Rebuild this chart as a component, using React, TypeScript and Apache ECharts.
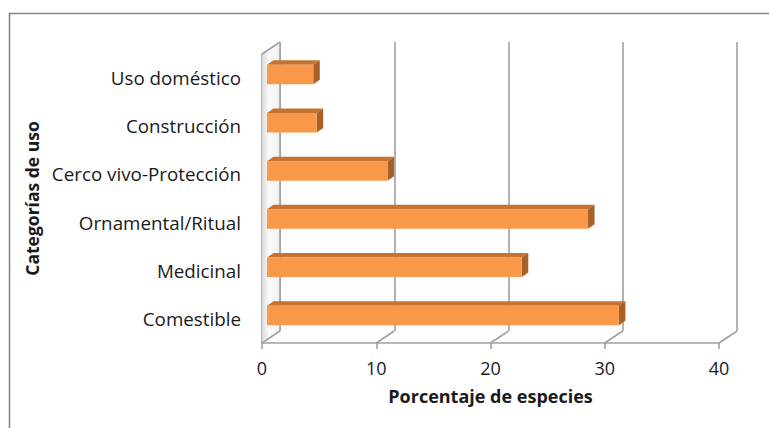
import React, { useEffect, useRef } from "react";
import * as echarts from "echarts";

const categories = [
  "Comestible",
  "Medicinal",
  "Ornamental/Ritual",
  "Cerco vivo-Protección",
  "Construcción",
  "Uso doméstico",
];
const percentages = [30.8, 22.3, 28.1, 10.55, 4.35, 4.05];
const xTicks = [0, 10, 20, 30, 40];
const xTitle = "Porcentaje de especies";
const yTitle = "Categorías de uso";

const FONT = "'Open Sans', 'DejaVu Sans', sans-serif";
const GRID_COLOR = "#a0a0a0";
const DX = 18;
const DY = -12;

export default function App() {
  const ref = useRef<HTMLDivElement>(null);
  useEffect(() => {
    if (!ref.current) return;
    const chart = echarts.init(ref.current, null, { renderer: "svg" });
    const wallFill = new echarts.graphic.LinearGradient(0, 0, 1, 0, [
      { offset: 0, color: "#dadada" },
      { offset: 0.4, color: "#fbfbfb" },
      { offset: 1, color: "#efefef" },
    ]);
    const option: any = {
      animation: false,
      backgroundColor: "#ffffff",
      graphic: [
        {
          type: "rect",
          shape: { x: 9.5, y: 13.5, width: 820, height: 520 },
          style: { fill: "none", stroke: "#878787", lineWidth: 1.6 },
          silent: true,
        },
      ],
      grid: [
        { left: 262, top: 54, width: 457, height: 289, containLabel: false },
        { left: 262 + DX, top: 54 + DY, width: 457, height: 289, containLabel: false },
      ],
      xAxis: [
        {
          type: "value",
          gridIndex: 0,
          min: 0,
          max: 40,
          interval: 10,
          name: xTitle,
          nameLocation: "middle",
          nameGap: 44,
          nameTextStyle: { fontFamily: FONT, fontSize: 18, fontWeight: "bold", color: "#1a1a1a" },
          axisLine: { show: true, lineStyle: { color: GRID_COLOR, width: 1.6 } },
          axisTick: { show: true, length: 6, lineStyle: { color: GRID_COLOR, width: 1.6 } },
          axisLabel: { fontFamily: FONT, fontSize: 18, color: "#1a1a1a", margin: 16 },
          splitLine: { show: false },
        },
        {
          type: "value",
          gridIndex: 1,
          min: 0,
          max: 40,
          interval: 10,
          axisLine: { show: false },
          axisTick: { show: false },
          axisLabel: { show: false },
          splitLine: { show: true, lineStyle: { color: GRID_COLOR, width: 1.6 } },
        },
      ],
      yAxis: [
        {
          type: "category",
          gridIndex: 0,
          data: categories,
          name: yTitle,
          nameLocation: "middle",
          nameGap: 220,
          nameRotate: 90,
          nameTextStyle: { fontFamily: FONT, fontSize: 17.5, fontWeight: "bold", color: "#1a1a1a" },
          axisLine: { show: true, lineStyle: { color: GRID_COLOR, width: 1.6 } },
          axisTick: { show: false },
          axisLabel: { fontFamily: FONT, fontSize: 18.8, color: "#1a1a1a", margin: 21 },
          splitLine: { show: false },
        },
        {
          type: "category",
          gridIndex: 1,
          data: categories,
          axisLine: { show: false },
          axisTick: { show: false },
          axisLabel: { show: false },
          splitLine: { show: false },
        },
      ],
      series: [
        {
          type: "custom",
          xAxisIndex: 0,
          yAxisIndex: 0,
          data: xTicks.map((v) => [v, 0]),
          encode: { x: 0, y: 1 },
          silent: true,
          renderItem: (params: any, api: any) => {
            const v = api.value(0);
            const x = api.coord([v, 0])[0];
            const cs = params.coordSys;
            const yb = cs.y + cs.height;
            const children: any[] = [];
            if (v === 0) {
              children.push({
                type: "polygon",
                shape: {
                  points: [
                    [x, cs.y],
                    [x + DX, cs.y + DY],
                    [x + DX, yb + DY],
                    [x, yb],
                  ],
                },
                style: { fill: wallFill, stroke: "none" },
              });
              children.push({
                type: "line",
                shape: { x1: x, y1: cs.y, x2: x + DX, y2: cs.y + DY },
                style: { stroke: GRID_COLOR, lineWidth: 1.6 },
              });
              children.push({
                type: "line",
                shape: { x1: x + DX, y1: cs.y + DY, x2: x + DX, y2: yb + DY },
                style: { stroke: GRID_COLOR, lineWidth: 1.6 },
              });
            }
            children.push({
              type: "line",
              shape: { x1: x, y1: yb, x2: x + DX, y2: yb + DY },
              style: { stroke: GRID_COLOR, lineWidth: 1.6 },
            });
            return { type: "group", children };
          },
        },
        {
          type: "custom",
          xAxisIndex: 0,
          yAxisIndex: 0,
          data: percentages.map((v, i) => [v, i]),
          encode: { x: 0, y: 1 },
          renderItem: (params: any, api: any) => {
            const v = api.value(0);
            const c = api.value(1);
            const p0 = api.coord([0, c]);
            const p1 = api.coord([v, c]);
            const x0 = p0[0] + 5;
            const x1 = p1[0] + 5;
            const yc = p0[1] - 3.5;
            const h = 19.5;
            const yt = yc - h / 2;
            const yb = yc + h / 2;
            const dx = 6.5;
            const dy = -4.5;
            return {
              type: "group",
              children: [
                {
                  type: "polygon",
                  shape: { points: [[x0, yt], [x1, yt], [x1 + dx, yt + dy], [x0 + dx, yt + dy]] },
                  style: { fill: "#c47431" },
                },
                {
                  type: "polygon",
                  shape: { points: [[x1, yt], [x1 + dx, yt + dy], [x1 + dx, yb + dy], [x1, yb]] },
                  style: { fill: "#a6602a" },
                },
                {
                  type: "rect",
                  shape: { x: x0, y: yt, width: x1 - x0, height: h },
                  style: { fill: "#f89848" },
                },
              ],
            };
          },
        },
      ],
    };
    chart.setOption(option);
    return () => chart.dispose();
  }, []);
  return (
    <div
      ref={ref}
      style={{ position: "fixed", left: 0, top: 0, width: 769, height: 428 }}
    />
  );
}
